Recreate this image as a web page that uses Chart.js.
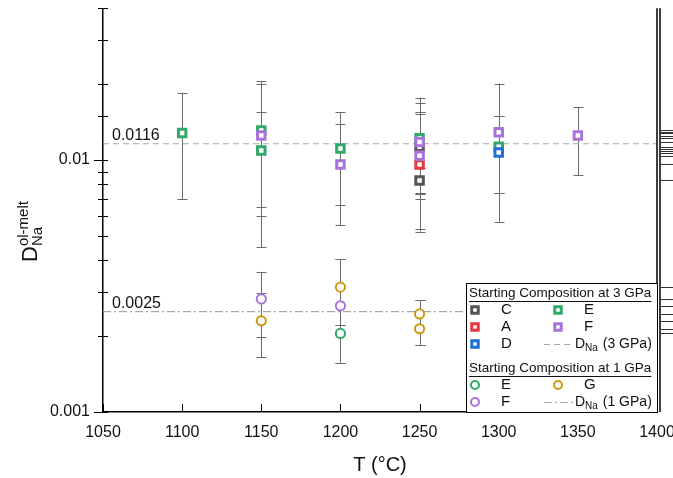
<!DOCTYPE html>
<html>
<head>
<meta charset="utf-8">
<script src="https://cdn.jsdelivr.net/npm/chart.js@4.4.1/dist/chart.umd.min.js"></script>
<style>
  html, body { margin: 0; padding: 0; background: #fff; }
  #wrap { width: 673px; height: 478px; }
</style>
</head>
<body>
<div id="wrap"><canvas id="dnaChart"></canvas></div>
<script>
const FONT = "Arial, 'Liberation Sans', sans-serif";

// Starting composition at 3 GPa (open squares): T, D, error bar low/high
const c3T = [1250, 1250];
const c3D = [0.0113, 0.0083];
const c3Lo = [0.0070, 0.0074];
const c3Hi = [0.0155, 0.0093];

const a3T = [1250];
const a3D = [0.0096];
const a3Lo = [0.0073];
const a3Hi = [0.0155];

const d3T = [1300];
const d3D = [0.0107];
const d3Lo = [0.0074];
const d3Hi = [0.0150];

const e3T = [1100, 1150, 1150, 1200, 1250, 1300];
const e3D = [0.0128, 0.0131, 0.0109, 0.0111, 0.0122, 0.0113];
const e3Lo = [0.0070, 0.0065, 0.0045, 0.0066, 0.0052, 0.0074];
const e3Hi = [0.0185, 0.0205, 0.0155, 0.0155, 0.0177, 0.0150];

const f3T = [1150, 1200, 1250, 1250, 1300, 1350];
const f3D = [0.0125, 0.0096, 0.0118, 0.0104, 0.0129, 0.0125];
const f3Lo = [0.0060, 0.0055, 0.0053, 0.0073, 0.0057, 0.0087];
const f3Hi = [0.0201, 0.0139, 0.0168, 0.0152, 0.0201, 0.0162];

// Starting composition at 1 GPa (open circles)
const e1T = [1200];
const e1D = [0.00205];
const e1Lo = [0.00157];
const e1Hi = [0.00222];

const f1T = [1150, 1200];
const f1D = [0.00281, 0.00264];
const f1Lo = [0.00165, 0.00157];
const f1Hi = [0.00360, 0.00404];

const g1T = [1150, 1200, 1250, 1250];
const g1D = [0.00230, 0.00313, 0.00245, 0.00214];
const g1Lo = [0.00199, 0.00222, 0.00185, 0.00185];
const g1Hi = [0.00298, 0.00404, 0.00278, 0.00278];

// mean partition coefficients
const dNa3 = 0.0116;
const dNa1 = 0.0025;
const tRange = [1050, 1400];
const xTicks = [1050, 1100, 1150, 1200, 1250, 1300, 1350, 1400];

function pts(t, d) {
  return t.map((x, i) => ({ x: x, y: d[i] }));
}

function marks(label, color, style, t, d, lo, hi, order) {
  const sq = style === 'rect';
  return {
    label: label,
    data: pts(t, d),
    lo: lo, hi: hi,
    showLine: false,
    pointStyle: style,
    pointRadius: sq ? 5.3 : 4.6,
    pointHoverRadius: sq ? 5.3 : 4.6,
    pointBorderWidth: sq ? 3 : 2,
    pointHoverBorderWidth: sq ? 3 : 2,
    pointBorderColor: color,
    pointBackgroundColor: '#fff',
    borderColor: color,
    backgroundColor: '#fff',
    order: order
  };
}

function hline(label, v, dash, order) {
  return {
    type: 'line',
    label: label,
    data: tRange.map(x => ({ x: x, y: v })),
    borderColor: '#a8a8a8',
    borderWidth: 1.2,
    borderDash: dash,
    pointRadius: 0,
    order: order,
    isRef: true
  };
}

const datasets = [
  marks('C', '#555555', 'rect', c3T, c3D, c3Lo, c3Hi, 5),
  marks('A', '#e8363c', 'rect', a3T, a3D, a3Lo, a3Hi, 3),
  marks('D', '#2070d8', 'rect', d3T, d3D, d3Lo, d3Hi, 2),
  marks('E', '#33a86a', 'rect', e3T, e3D, e3Lo, e3Hi, 4),
  marks('F', '#a874dc', 'rect', f3T, f3D, f3Lo, f3Hi, 1),
  hline('DNa (3 GPa)', dNa3, [6, 4], 20),
  marks('E', '#33a86a', 'circle', e1T, e1D, e1Lo, e1Hi, 6),
  marks('F', '#a874dc', 'circle', f1T, f1D, f1Lo, f1Hi, 6),
  marks('G', '#cc9a10', 'circle', g1T, g1D, g1Lo, g1Hi, 6),
  hline('DNa (1 GPa)', dNa1, [8, 3, 2, 3], 20)
];

// error bars under the markers
const errorBars = {
  id: 'errorBars',
  beforeDatasetsDraw(chart) {
    const ctx = chart.ctx, xs = chart.scales.x, ys = chart.scales.y;
    ctx.save();
    ctx.strokeStyle = '#6a6a6a';
    ctx.lineWidth = 1;
    chart.data.datasets.forEach(ds => {
      if (!ds.lo) return;
      ds.data.forEach((p, i) => {
        const px = Math.round(xs.getPixelForValue(p.x)) + 0.5;
        const y1 = ys.getPixelForValue(ds.hi[i]);
        const y2 = ys.getPixelForValue(ds.lo[i]);
        ctx.beginPath();
        ctx.moveTo(px, y1); ctx.lineTo(px, y2);
        ctx.moveTo(px - 5, Math.round(y1) + 0.5); ctx.lineTo(px + 5, Math.round(y1) + 0.5);
        ctx.moveTo(px - 5, Math.round(y2) + 0.5); ctx.lineTo(px + 5, Math.round(y2) + 0.5);
        ctx.stroke();
      });
    });
    ctx.restore();
  }
};

function drawDNa(ctx, x, y, big, small, rest) {
  ctx.font = big + 'px ' + FONT;
  ctx.fillText('D', x, y);
  let w = ctx.measureText('D').width;
  ctx.font = small + 'px ' + FONT;
  ctx.fillText('Na', x + w, y + 4);
  w += ctx.measureText('Na').width;
  ctx.font = big + 'px ' + FONT;
  ctx.fillText(rest, x + w + 1, y);
}

const decorations = {
  id: 'decorations',
  afterDraw(chart) {
    const ctx = chart.ctx, xs = chart.scales.x, ys = chart.scales.y;
    const a = chart.chartArea;
    ctx.save();
    ctx.strokeStyle = '#000';
    ctx.fillStyle = '#000';
    ctx.lineWidth = 1;

    // tick marks
    ctx.beginPath();
    xs.ticks.forEach(t => {
      const px = Math.round(xs.getPixelForValue(t.value)) + 0.5;
      ctx.moveTo(px, a.bottom); ctx.lineTo(px, a.bottom - 8);
    });
    ys.ticks.forEach(t => {
      const py = Math.round(ys.getPixelForValue(t.value)) + 0.5;
      const lg = Math.log10(t.value);
      const major = Math.abs(lg - Math.round(lg)) < 1e-6;
      ctx.moveTo(a.left - (major ? 9 : 5), py); ctx.lineTo(a.left + 5, py);
    });
    ctx.stroke();

    // right frame and rug panel
    ctx.lineWidth = 1.5;
    ctx.beginPath();
    ctx.moveTo(a.right, a.top); ctx.lineTo(a.right, a.bottom);
    ctx.moveTo(a.right + 3, a.top); ctx.lineTo(a.right + 3, a.bottom);
    ctx.stroke();
    ctx.lineWidth = 1;
    ctx.strokeStyle = '#333';
    ctx.beginPath();
    chart.data.datasets.forEach(ds => {
      if (!ds.lo) return;
      ds.data.forEach(p => {
        const py = Math.round(ys.getPixelForValue(p.y)) + 0.5;
        ctx.moveTo(a.right + 4, py); ctx.lineTo(chart.width, py);
      });
    });
    ctx.stroke();

    // value labels on the mean lines
    ctx.fillStyle = '#111';
    ctx.font = '16px ' + FONT;
    ctx.textBaseline = 'alphabetic';
    ctx.textAlign = 'left';
    ctx.fillText(dNa3.toString(), 112, ys.getPixelForValue(dNa3) - 4);
    ctx.fillText(dNa1.toString(), 112, ys.getPixelForValue(dNa1) - 4);

    // axis titles
    ctx.font = '20px ' + FONT;
    ctx.textAlign = 'center';
    ctx.textBaseline = 'middle';
    ctx.fillText('T (°C)', (a.left + a.right) / 2, 465);

    ctx.save();
    ctx.translate(37, 262);
    ctx.rotate(-Math.PI / 2);
    ctx.textAlign = 'left';
    ctx.textBaseline = 'alphabetic';
    ctx.font = '22px ' + FONT;
    ctx.fillText('D', 0, 0);
    const dw = ctx.measureText('D').width;
    ctx.font = '15px ' + FONT;
    ctx.fillText('ol-melt', dw, -9);
    ctx.fillText('Na', dw, 5);
    ctx.restore();

    // legend box
    const L = 466, T = 283, R = a.right, B = a.bottom;
    ctx.fillStyle = '#fff';
    ctx.fillRect(L, T, R - L, B - T);
    ctx.strokeStyle = '#000';
    ctx.strokeRect(L + 0.5, T + 0.5, R - L, B - T);

    const ds = chart.data.datasets;
    ctx.fillStyle = '#111';
    ctx.textAlign = 'left';
    ctx.textBaseline = 'middle';
    const heads = [['Starting Composition at 3 GPa', T + 10], ['Starting Composition at 1 GPa', T + 85]];
    ctx.font = '13.5px ' + FONT;
    heads.forEach(h => {
      ctx.fillText(h[0], L + 3, h[1]);
      const w = ctx.measureText(h[0]).width;
      ctx.fillRect(L + 3, h[1] + 8, w, 1);
    });

    const slots = [
      [0, 0, 0], [1, 0, 1], [2, 0, 2], [3, 1, 0], [4, 1, 1], [5, 1, 2],
      [6, 0, 3], [7, 0, 4], [8, 1, 3], [9, 1, 4]
    ];
    const rowY = [T + 27, T + 44, T + 61, T + 102, T + 119];
    const colX = [L + 9, L + 92];
    slots.forEach(s => {
      const d = ds[s[0]];
      const mx = colX[s[1]], my = rowY[s[2]];
      ctx.save();
      if (d.isRef) {
        ctx.strokeStyle = d.borderColor;
        ctx.lineWidth = 1.2;
        ctx.setLineDash(d.borderDash);
        ctx.beginPath();
        ctx.moveTo(mx - 14, my + 0.5); ctx.lineTo(mx + 16, my + 0.5);
        ctx.stroke();
        ctx.restore();
        ctx.fillStyle = '#111';
        ctx.textBaseline = 'middle';
        drawDNa(ctx, mx + 17, my, 14, 10, ' (' + d.label.split('(')[1]);
      } else {
        ctx.strokeStyle = d.pointBorderColor;
        ctx.fillStyle = '#fff';
        ctx.lineWidth = d.pointBorderWidth;
        Chart.helpers.drawPoint(ctx, {
          pointStyle: d.pointStyle,
          radius: d.pointStyle === 'rect' ? 4.6 : 4,
          borderWidth: d.pointBorderWidth,
          rotation: 0
        }, mx, my);
        ctx.restore();
        ctx.fillStyle = '#111';
        ctx.font = '15px ' + FONT;
        ctx.fillText(d.label, mx + 26, my);
      }
    });
    ctx.restore();
  }
};

new Chart(document.getElementById('dnaChart'), {
  type: 'scatter',
  data: { datasets: datasets },
  options: {
    responsive: true,
    maintainAspectRatio: false,
    animation: false,
    layout: { padding: { top: 5, right: 16, left: 0, bottom: 0 } },
    plugins: {
      legend: { display: false },
      tooltip: { enabled: false }
    },
    scales: {
      x: {
        type: 'linear',
        min: tRange[0],
        max: tRange[1],
        afterBuildTicks: s => { s.ticks = xTicks.map(v => ({ value: v })); },
        afterFit: s => { s.height = 66; s.paddingLeft = 0; s.paddingRight = 0; },
        grid: { display: false },
        border: { display: true, color: '#000', width: 1.5 },
        ticks: {
          padding: 3,
          color: '#111',
          font: { family: FONT, size: 16 },
          maxRotation: 0,
          callback: v => String(v)
        }
      },
      y: {
        type: 'logarithmic',
        min: 0.001,
        max: 0.04,
        afterFit: s => { s.width = 103; s.paddingTop = 0; s.paddingBottom = 0; },
        grid: { display: false },
        border: { display: true, color: '#000', width: 1.5 },
        ticks: {
          autoSkip: false,
          padding: 5,
          color: '#111',
          font: { family: FONT, size: 16 },
          callback: v => {
            const lg = Math.log10(v);
            return Math.abs(lg - Math.round(lg)) < 1e-6 ? v.toFixed(-Math.round(lg)) : '';
          }
        }
      }
    }
  },
  plugins: [errorBars, decorations]
});
</script>
</body>
</html>
